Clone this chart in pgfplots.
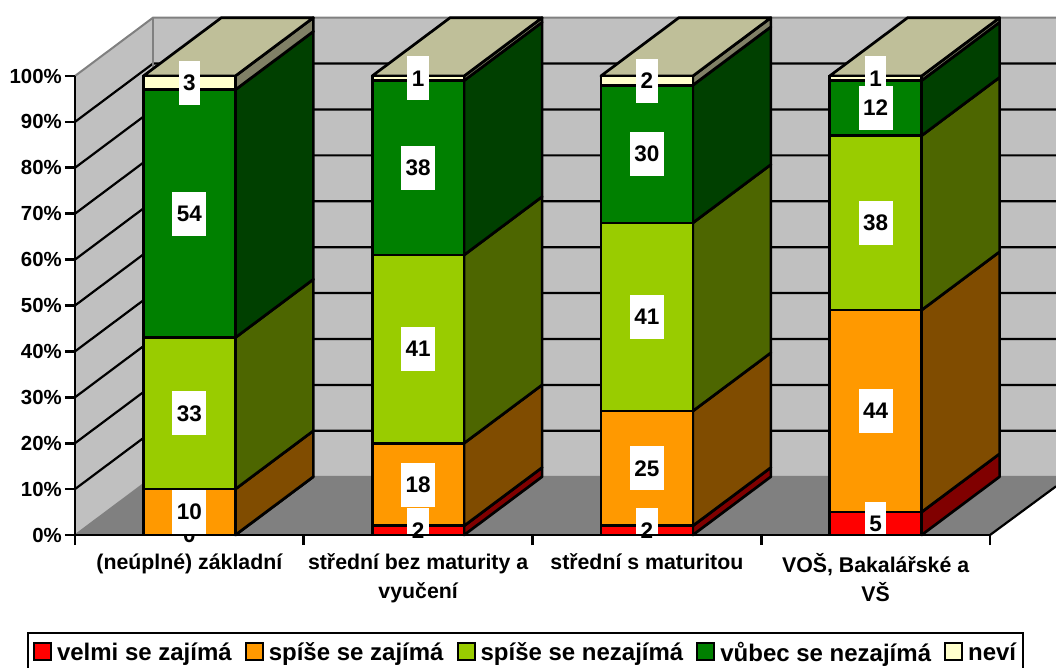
\documentclass[border=0pt]{standalone}
\usepackage{pgfplots}
\usepackage{pgfplotstable}
\pgfplotsset{compat=1.18}
\usepackage{fontspec}
\setmainfont{Liberation Sans}

\definecolor{cvelmi}{HTML}{FF0000}
\definecolor{cspise}{HTML}{FF9900}
\definecolor{cnez}{HTML}{99CC00}
\definecolor{cvubec}{HTML}{008000}
\definecolor{cnevi}{HTML}{FFFFCC}
\definecolor{svelmi}{HTML}{800000}
\definecolor{sspise}{HTML}{804C00}
\definecolor{snez}{HTML}{4D6600}
\definecolor{svubec}{HTML}{004000}
\definecolor{snevi}{HTML}{808066}
\definecolor{topf}{HTML}{BFBF99}
\definecolor{wall}{HTML}{C0C0C0}
\definecolor{floorc}{HTML}{808080}

% procenta: kategorie v 0.5, 1.5, ...
\pgfplotstableread{
x    velmi spise nezaj vubec nevi
0.5  0     10    33    54    3
1.5  2     18    41    38    1
2.5  2     25    41    30    2
3.5  5     44    38    12    1
}\datatab

\pgfplotsset{base/.style={
  at={(75pt,132pt)}, anchor=south west,
  scale only axis, width=981pt, height=518pt,
  xmin=0, xmax=4.2885, ymin=0, ymax=112.85,
  clip=false,
}}

\def\dx{0.341}
\def\dy{12.7}
\def\halfw{0.201}

% bocni stena jednoho useku
\newcommand\sideseg[4]{%
  \pgfmathsetmacro\xa{#1+\halfw}%
  \pgfmathsetmacro\xb{\xa+\dx}%
  \pgfmathsetmacro\ya{#2+\dy}%
  \pgfmathsetmacro\yb{#3+\dy}%
  \edef\tmp{\noexpand\addplot[draw=black,line width=2.7pt,line join=round,fill=#4]
    coordinates {(\xa,#2) (\xb,\ya) (\xb,\yb) (\xa,#3)} -- cycle;}%
  \tmp}
% bocni steny a horni plocha jednoho sloupce
\newcommand\sidebar[6]{%
  \pgfmathsetmacro\ca{#2}%
  \pgfmathsetmacro\cb{\ca+#3}%
  \pgfmathsetmacro\cc{\cb+#4}%
  \pgfmathsetmacro\cd{\cc+#5}%
  \pgfmathsetmacro\ce{\cd+#6}%
  \sideseg{#1}{0}{\ca}{svelmi}%
  \sideseg{#1}{\ca}{\cb}{sspise}%
  \sideseg{#1}{\cb}{\cc}{snez}%
  \sideseg{#1}{\cc}{\cd}{svubec}%
  \sideseg{#1}{\cd}{\ce}{snevi}%
  \pgfmathsetmacro\xl{#1-\halfw}%
  \pgfmathsetmacro\xr{#1+\halfw}%
  \pgfmathsetmacro\xlb{\xl+\dx}%
  \pgfmathsetmacro\xrb{\xr+\dx}%
  \pgfmathsetmacro\yt{\ce+\dy}%
  \edef\tmp{\noexpand\addplot[draw=black,line width=2.7pt,line join=round,fill=topf]
    coordinates {(\xl,\ce) (\xr,\ce) (\xrb,\yt) (\xlb,\yt)} -- cycle;}%
  \tmp}

\begin{document}
\begin{tikzpicture}[x=1pt,y=1pt]
\useasboundingbox (0,0) rectangle (1056,667);

% steny, podlaha, mrizka, bocni steny sloupcu
\begin{axis}[base, hide axis]
  \addplot[draw=none,fill=wall] coordinates {(0,0) (0.341,12.7) (0.341,112.7) (0,100)} -- cycle;
  \addplot[draw=none,fill=wall] coordinates {(0.341,12.7) (4.2885,12.7) (4.2885,112.7) (0.341,112.7)} -- cycle;
  \addplot[draw=none,fill=floorc] coordinates {(0,0) (4,0) (4.2885,10.6) (4.2885,12.7) (0.341,12.7)} -- cycle;
  \pgfplotsinvokeforeach{10,20,...,90}{
    \pgfmathsetmacro\gy{#1+\dy}
    \edef\tmp{\noexpand\addplot[black,line width=2.2pt] coordinates {(0,#1) (0.341,\gy) (4.2885,\gy)};}
    \tmp
  }
  \addplot[draw=gray,line width=2pt] coordinates {(0,100) (0.341,112.7) (4.2885,112.7)};
  \addplot[draw=gray,line width=2pt] coordinates {(0.341,112.7) (0.341,12.7)};
  \addplot[draw=gray,line width=1.5pt] coordinates {(0,0) (0.341,12.7) (4.2885,12.7)};
  \addplot[black,line width=2.2pt] coordinates {(4,0) (4.2885,10.6)};
  \sidebar{0.5}{0}{10}{33}{54}{3}
  \sidebar{1.5}{2}{18}{41}{38}{1}
  \sidebar{2.5}{2}{25}{41}{30}{2}
  \sidebar{3.5}{5}{44}{38}{12}{1}
\end{axis}

% predni steny sloupcu a legenda
\begin{axis}[base, hide axis,
  ybar stacked, bar width=0.402,
  legend columns=5,
  legend style={at={(-0.0489,-0.1873)},anchor=north west,draw=black,line width=2pt,
    font=\fontsize{24}{28}\selectfont\bfseries,inner xsep=5pt,inner ysep=7pt,
    /tikz/every odd column/.append style={column sep=3pt},
    /tikz/every even column/.append style={column sep=11pt}},
  legend cell align=left,
  legend image code/.code={\draw[#1,line width=2pt,fill opacity=1] (0pt,-8pt) rectangle (17pt,9pt);},
  every axis plot/.append style={draw=black,line width=2.7pt},
]
  \addplot[fill=cvelmi] table[x=x,y=velmi] {\datatab};
  \addlegendentry{velmi se zajímá}
  \addplot[fill=cspise] table[x=x,y=spise] {\datatab};
  \addlegendentry{spíše se zajímá}
  \addplot[fill=cnez] table[x=x,y=nezaj] {\datatab};
  \addlegendentry{spíše se nezajímá}
  \addplot[fill=cvubec] table[x=x,y=vubec] {\datatab};
  \addlegendentry{vůbec se nezajímá}
  \addplot[fill=cnevi] table[x=x,y=nevi] {\datatab};
  \addlegendentry{neví}
\end{axis}

% popisky dat
\begin{axis}[base, hide axis]
  \addplot[draw=none,
    point meta=explicit symbolic,
    nodes near coords,
    every node near coord/.style={anchor=center,fill=white,inner xsep=4.5pt,inner ysep=0pt,
      minimum height=44pt,font=\fontsize{22.5}{26}\selectfont\bfseries,text=black},
  ] table[x=x,y=y,meta=t] {
    x   y    t
    0.5 0    0
    0.5 5    10
    0.5 26.5 33
    0.5 70   54
    0.5 98.5 3
    1.5 1    2
    1.5 11   18
    1.5 40.5 41
    1.5 80   38
    1.5 99.5 1
    2.5 1    2
    2.5 14.5 25
    2.5 47.5 41
    2.5 83   30
    2.5 99   2
    3.5 2.5  5
    3.5 27   44
    3.5 68   38
    3.5 99.5 1
    3.5 93   12
  };
\end{axis}

% osy a cisla
\begin{axis}[base,
  axis line style={draw=none},
  xtick={0,1,2,3,4}, xticklabels={},
  xtick pos=bottom, ytick pos=left,
  tick align=outside,
  major tick length=10pt,
  tick style={black,line width=2.7pt},
  ytick={0,10,...,100},
  yticklabel={\pgfmathparse{int(\tick)}\pgfmathresult\%},
  yticklabel style={font=\fontsize{20.4}{24}\selectfont\bfseries,inner xsep=3pt},
  extra x ticks={0.5,1.5,2.5,3.5},
  extra x tick labels={(neúplné) základní,{střední bez maturity a\\vyučení},střední s maturitou,{VOŠ, Bakalářské a\\VŠ}},
  extra x tick style={major tick length=0pt,
    xticklabel style={font=\fontsize{21.3}{29}\selectfont\bfseries,align=center,anchor=north,yshift=-15pt}},
]
  \addplot[black,line width=2.7pt] coordinates {(0,100) (0,0) (4,0)};
\end{axis}
\end{tikzpicture}
\end{document}
